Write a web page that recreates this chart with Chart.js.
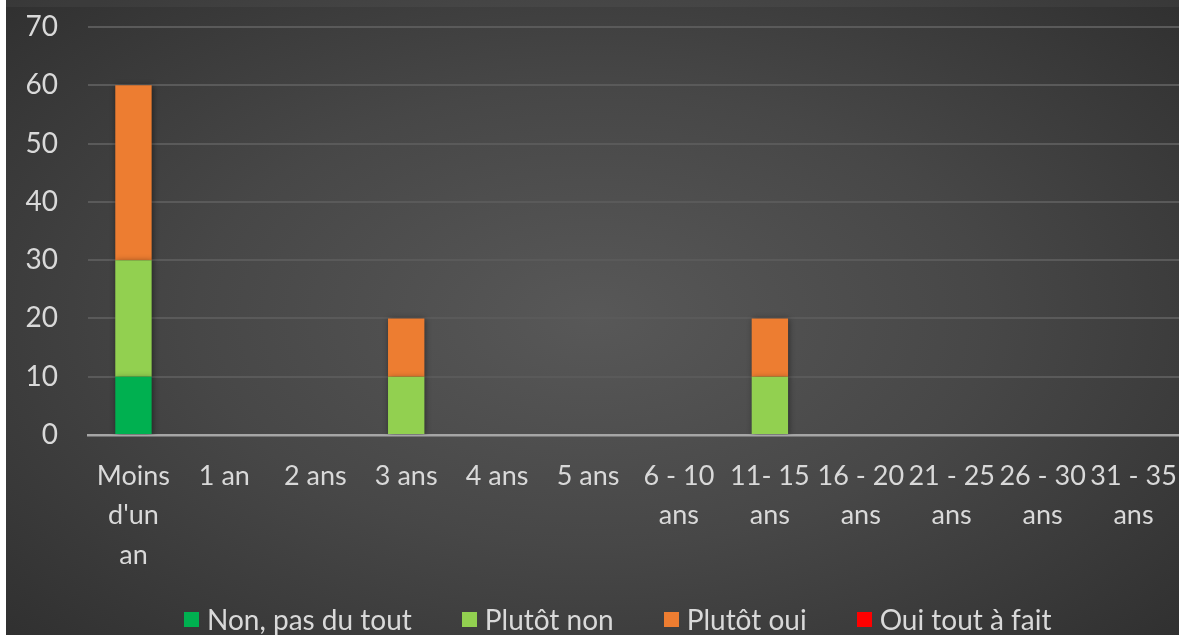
<!DOCTYPE html>
<html>
<head>
<meta charset="utf-8">
<script src="https://cdn.jsdelivr.net/npm/chart.js@4"></script>
<style>
    body { margin: 0; background: #fff; }
    #wrap { position: relative; width: 1179px; height: 635px; overflow: hidden; }
    #strip { position: absolute; left: 0; top: 0; width: 6px; height: 635px; background: #fff; }
    #box {
        position: absolute; left: 6px; top: 0; width: 1173px; height: 635px;
        background: radial-gradient(ellipse 75% 80% at 50% 50%, #585858 0%, #474747 45%, #2c2c2c 100%);
    }
    #topbar { position: absolute; left: 0; top: 0; width: 1173px; height: 7px; background: rgba(255,255,255,0.04); }
    #legend {
        position: absolute; left: 178px; top: 602px; display: flex; align-items: center;
        font-family: Lato, sans-serif; font-size: 28px; color: #d9d9d9;
    }
    .item { display: flex; align-items: center; margin-right: 50px; }
    .sw { width: 15px; height: 15px; margin-right: 8px; }
</style>
</head>
<body>
<div id="wrap">
    <div id="strip"></div>
    <div id="box">
        <div id="topbar"></div>
        <canvas id="chart" width="1173" height="635"></canvas>
        <div id="legend"></div>
    </div>
</div>
<script>
const categories = [
    ["Moins", "d'un", "an"], "1 an", "2 ans", "3 ans", "4 ans", "5 ans",
    ["6 - 10", "ans"], ["11- 15", "ans"], ["16 - 20", "ans"], ["21 - 25", "ans"], ["26 - 30", "ans"], ["31 - 35", "ans"]
];
const nonPasDuTout = [10, 0, 0, 0, 0, 0, 0, 0, 0, 0, 0, 0];
const plutotNon    = [20, 0, 0, 10, 0, 0, 0, 10, 0, 0, 0, 0];
const plutotOui    = [30, 0, 0, 10, 0, 0, 0, 10, 0, 0, 0, 0];
const ouiToutAFait = [0, 0, 0, 0, 0, 0, 0, 0, 0, 0, 0, 0];
const seriesNames  = ["Non, pas du tout", "Plutôt non", "Plutôt oui", "Oui tout à fait"];
const seriesColors = ["#00b050", "#92d050", "#ed7d31", "#ff0000"];

const font = { family: "Lato, sans-serif", size: 28 };

// soft shadow behind the bars, like the original
const barShadow = {
    id: "barShadow",
    beforeDatasetsDraw(chart) {
        const ctx = chart.ctx;
        ctx.save();
        ctx.shadowColor = "rgba(0,0,0,0.45)";
        ctx.shadowBlur = 6;
        ctx.shadowOffsetX = 1;
        ctx.shadowOffsetY = 1;
    },
    afterDatasetsDraw(chart) {
        chart.ctx.restore();
    }
};

const values = [nonPasDuTout, plutotNon, plutotOui, ouiToutAFait];

const chart = new Chart(document.getElementById("chart"), {
    type: "bar",
    data: {
        labels: categories,
        datasets: values.map((v, i) => ({
            label: seriesNames[i],
            data: v,
            backgroundColor: seriesColors[i],
            borderWidth: 0,
            categoryPercentage: 1,
            barPercentage: 0.4
        }))
    },
    options: {
        responsive: false,
        animation: false,
        layout: { padding: { top: 27, right: 0, bottom: 0, left: 0 } },
        plugins: {
            legend: { display: false },
            tooltip: { enabled: false }
        },
        scales: {
            x: {
                stacked: true,
                grid: { display: false },
                border: { display: true, color: "#a6a6a6", width: 2.5 },
                ticks: { color: "#d9d9d9", font: { family: font.family, size: 27, lineHeight: 1.45 }, padding: 14, maxRotation: 0, autoSkip: false },
                afterFit: s => { s.height = 200; s.paddingLeft = 0; s.paddingRight = 0; }
            },
            y: {
                stacked: true,
                min: 0,
                max: 70,
                ticks: { stepSize: 10, color: "#d9d9d9", font: font, padding: 30 },
                grid: {
                    color: "#5a5a5a",
                    lineWidth: 2,
                    drawTicks: false
                },
                border: { display: false },
                afterFit: s => { s.width = 82; s.paddingTop = 0; s.paddingBottom = 0; }
            }
        }
    },
    plugins: [barShadow]
});

const legend = document.getElementById("legend");
seriesNames.forEach((name, i) => {
    legend.innerHTML += `<div class="item"><div class="sw" style="background:${seriesColors[i]}"></div>${name}</div>`;
});
</script>
</body>
</html>
